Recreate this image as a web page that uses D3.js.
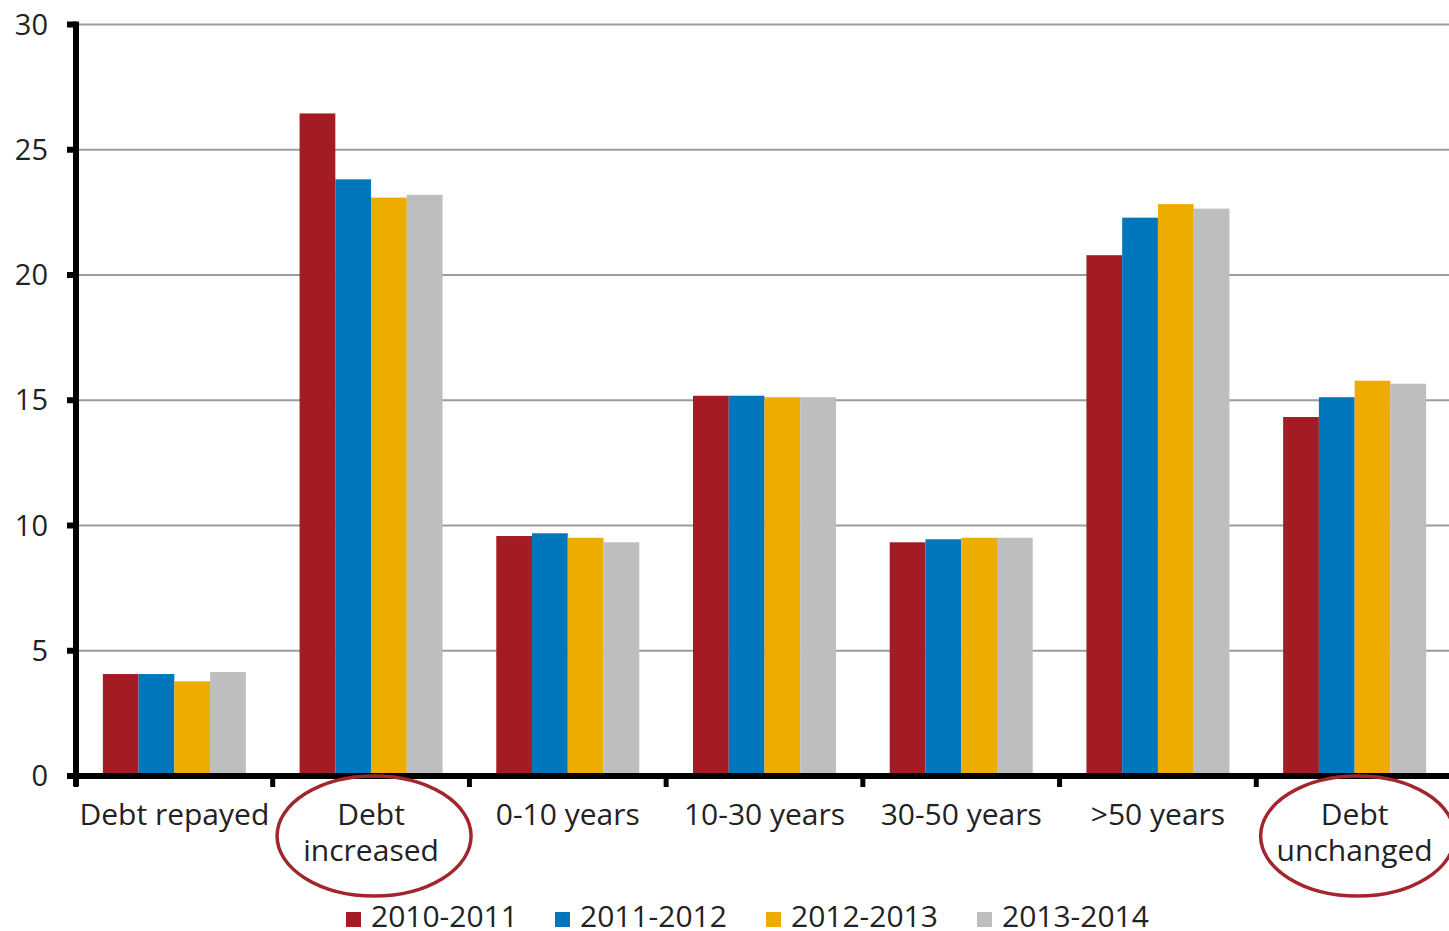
<!DOCTYPE html>
<html>
<head>
<meta charset="utf-8">
<script src="https://cdn.jsdelivr.net/npm/d3@7"></script>
<style>
  html, body { margin: 0; padding: 0; background: #fff; }
  svg { display: block; }
  text { font-family: "Open Sans", "Noto Sans", sans-serif; fill: #222; }
</style>
</head>
<body>
<svg id="chart" width="1449" height="931"></svg>
<script>
// Share of households by change in debt (%), four survey periods
const categories = [
  ["Debt repayed"],
  ["Debt", "increased"],
  ["0-10 years"],
  ["10-30 years"],
  ["30-50 years"],
  [">50 years"],
  ["Debt", "unchanged"]
];
const seriesNames = ["2010-2011", "2011-2012", "2012-2013", "2013-2014"];
const s2010 = [4.07, 26.45, 9.58, 15.18, 9.33, 20.79, 14.33];
const s2011 = [4.07, 23.82, 9.69, 15.18, 9.45, 22.29, 15.12];
const s2012 = [3.78, 23.09, 9.51, 15.12, 9.51, 22.83, 15.78];
const s2013 = [4.15, 23.20, 9.33, 15.12, 9.51, 22.65, 15.66];
const yTicks = [0, 5, 10, 15, 20, 25, 30];
const highlighted = [1, 6]; // circled categories

const colors = ["#a31c24", "#0077bd", "#edad00", "#bdbec0"];
const series = [s2010, s2011, s2012, s2013];

const svg = d3.select("#chart");
const plotLeft = 76, plotRight = 1453, plotTop = 24.5, plotBottom = 776;

const x0 = d3.scaleBand()
  .domain(d3.range(categories.length))
  .range([plotLeft, plotRight])
  .paddingInner(0.273)
  .paddingOuter(0.1365);
const x1 = d3.scaleBand()
  .domain(d3.range(seriesNames.length))
  .range([0, x0.bandwidth()]);
const y = d3.scaleLinear().domain([0, 30]).range([plotBottom, plotTop]);

// Gridlines
svg.append("g")
  .selectAll("line")
  .data(yTicks.filter(d => d > 0))
  .join("line")
  .attr("x1", plotLeft).attr("x2", 1449)
  .attr("y1", d => y(d)).attr("y2", d => y(d))
  .attr("stroke", "#9c9c9c")
  .attr("stroke-width", 2);

// Bars
const groups = svg.append("g")
  .selectAll("g")
  .data(categories.map((c, i) => i))
  .join("g")
  .attr("transform", i => `translate(${x0(i)},0)`);

groups.selectAll("rect")
  .data(i => series.map((s, k) => ({ k, v: s[i] })))
  .join("rect")
  .attr("x", d => x1(d.k))
  .attr("width", x1.bandwidth())
  .attr("y", d => y(d.v))
  .attr("height", d => y(0) - y(d.v))
  .attr("fill", d => colors[d.k]);

// Y axis
const yAxis = svg.append("g");
yAxis.append("line")
  .attr("x1", plotLeft).attr("x2", plotLeft)
  .attr("y1", y(30) - 3).attr("y2", plotBottom + 10)
  .attr("stroke", "#000").attr("stroke-width", 6);
yAxis.selectAll("line.tick")
  .data(yTicks)
  .join("line")
  .attr("class", "tick")
  .attr("x1", plotLeft - 9).attr("x2", plotLeft)
  .attr("y1", d => y(d)).attr("y2", d => y(d))
  .attr("stroke", "#000").attr("stroke-width", 6);
yAxis.selectAll("text")
  .data(yTicks)
  .join("text")
  .attr("x", 48)
  .attr("y", d => y(d))
  .attr("dy", "0.35em")
  .attr("text-anchor", "end")
  .attr("font-size", 29)
  .text(d => d);

// X axis
const xAxis = svg.append("g");
xAxis.append("line")
  .attr("x1", plotLeft - 9).attr("x2", 1449)
  .attr("y1", plotBottom).attr("y2", plotBottom)
  .attr("stroke", "#000").attr("stroke-width", 6);
xAxis.selectAll("line.tick")
  .data(d3.range(categories.length + 1))
  .join("line")
  .attr("class", "tick")
  .attr("x1", i => plotLeft + i * x0.step()).attr("x2", i => plotLeft + i * x0.step())
  .attr("y1", plotBottom).attr("y2", plotBottom + 11)
  .attr("stroke", "#000").attr("stroke-width", 5);

const labels = xAxis.selectAll("text")
  .data(categories.map((c, i) => ({ c, i })))
  .join("text")
  .attr("text-anchor", "middle")
  .attr("font-size", 30)
  .attr("transform", d => `translate(${x0(d.i) + x0.bandwidth() / 2},825)`);
labels.selectAll("tspan")
  .data(d => d.c)
  .join("tspan")
  .attr("x", 0)
  .attr("y", (t, j) => j * 36)
  .text(t => t);

// Annotation ellipses around highlighted categories
svg.append("g")
  .selectAll("ellipse")
  .data(highlighted)
  .join("ellipse")
  .attr("cx", i => x0(i) + x0.bandwidth() / 2 + 3)
  .attr("cy", 836)
  .attr("rx", 97)
  .attr("ry", 60)
  .attr("fill", "none")
  .attr("stroke", "#a1262d")
  .attr("stroke-width", 3.5);

// Legend
const legendX = [346, 555, 766, 977];
const legend = svg.append("g")
  .selectAll("g")
  .data(seriesNames.map((n, k) => ({ n, k })))
  .join("g")
  .attr("transform", d => `translate(${legendX[d.k]},927)`);
legend.append("rect")
  .attr("x", 0).attr("y", -15)
  .attr("width", 15).attr("height", 15)
  .attr("fill", d => colors[d.k]);
legend.append("text")
  .attr("x", 25)
  .attr("y", 0)
  .attr("font-size", 30)
  .text(d => d.n);
</script>
</body>
</html>
